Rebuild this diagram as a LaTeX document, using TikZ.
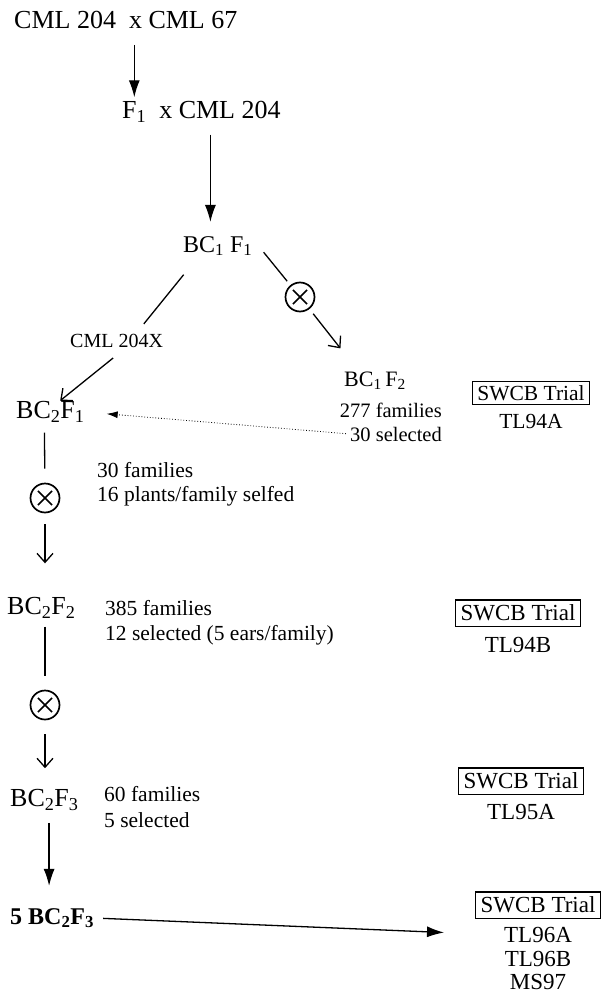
\documentclass[tikz,border=0pt]{standalone}
\usepackage{fontspec}
\setmainfont{Liberation Serif}
\usetikzlibrary{arrows.meta}
\newcommand{\sub}[1]{\textsubscript{#1}}

\begin{document}
\begin{tikzpicture}[x=1pt,y=-1pt]
 \tikzset{gen/.style = {inner sep=0pt, anchor=west, font=\fontsize{26}{28}\selectfont}}
 \tikzset{note/.style = {inner sep=0pt, anchor=west, font=\fontsize{21.5}{24}\selectfont}}
 \tikzset{trial/.style = {draw, line width=1.3pt, inner xsep=5pt, inner ysep=5pt, font=\fontsize{23}{25}\selectfont}}
 \tikzset{site/.style = {inner sep=0pt, font=\fontsize{23}{25}\selectfont}}
 \tikzset{selfx/.style = {circle, draw, line width=1.7pt, minimum size=29pt, inner sep=0pt,
   path picture={\draw[line width=1.7pt]
     ([shift={(45:10pt)}]path picture bounding box.center) -- ([shift={(225:10pt)}]path picture bounding box.center)
     ([shift={(135:10pt)}]path picture bounding box.center) -- ([shift={(-45:10pt)}]path picture bounding box.center);}}}
 \tikzset{link/.style = {line width=1.3pt}}
 \tikzset{edge/.style = {line width=1.3pt, -{Latex[length=17pt,width=11pt]}}}
 \tikzset{open edge/.style = {line width=1.3pt, -{Straight Barb[length=9pt,width=16pt]}}}
 \tikzset{pick/.style = {line width=0.8pt, dotted, -{Latex[length=11pt,width=7pt]}}}
 \useasboundingbox (0,0) rectangle (603,995);

 % crosses
 \node[gen] (cross1) at (14,20) {CML 204~ x CML 67};
 \node[gen] (cross2) at (122,112) {F\sub{1}~ x CML 204};
 \node[gen, font=\fontsize{24}{26}\selectfont] (bc1f1) at (183,246) {BC\sub{1} F\sub{1}};
 \node[note, font=\fontsize{20}{22}\selectfont] (recur) at (70,341) {CML 204X};
 \node[selfx] (self1) at (300,297) {};

 % BC1F2 branch
 \node[gen, font=\fontsize{22}{24}\selectfont] (bc1f2) at (344,381) {BC\sub{1}\,F\sub{2}};
 \node[note, anchor=east, font=\fontsize{20.5}{22}\selectfont] (fam1) at (442,410) {277 families};
 \node[note, anchor=east, font=\fontsize{20.5}{22}\selectfont] (sel1) at (442,434) {30 selected};
 \node[trial, font=\fontsize{21.5}{23}\selectfont, inner ysep=4pt] (trial1) at (531,393) {SWCB Trial};
 \node[site, font=\fontsize{21.5}{23}\selectfont] (site1) at (531,421) {TL94A};

 % BC2 line
 \node[gen] (bc2f1) at (16,412) {BC\sub{2}F\sub{1}};
 \node[selfx] (self2) at (45,498) {};
 \node[note] (fam2) at (97,470) {30 families};
 \node[note] (plants) at (97,496) {16 plants/family selfed};
 \node[gen] (bc2f2) at (7,608) {BC\sub{2}F\sub{2}};
 \node[note] (fam3) at (105,608) {385 families};
 \node[note] (sel3) at (105,635) {12 selected (5 ears/family)};
 \node[trial] (trial2) at (518,613) {SWCB Trial};
 \node[site] (site2) at (518,645) {TL94B};
 \node[selfx] (self3) at (45,705) {};
 \node[gen] (bc2f3) at (10,800) {BC\sub{2}F\sub{3}};
 \node[note] (fam4) at (104,794) {60 families};
 \node[note] (sel4) at (104,820) {5 selected};
 \node[trial] (trial3) at (521,781) {SWCB Trial};
 \node[site] (site3) at (521,812) {TL95A};
 \node[gen, font=\fontsize{24}{26}\selectfont\bfseries] (final) at (10,918) {5 BC\sub{2}F\sub{3}};
 \node[trial] (trial4) at (538,905) {SWCB Trial};
 \node[site] (site4) at (538,935) {TL96A};
 \node[site] (site5) at (538,959) {TL96B};
 \node[site] (site6) at (538,982) {MS97};

 % connectors
 \draw[edge, shorten <=16pt, shorten >=4pt] ([xshift=8.5pt]cross1.south) -- ([xshift=8.5pt]cross1.south |- cross2.north);
 \draw[edge, shorten <=12pt, shorten >=14pt] ([xshift=9pt]cross2.south) -- ([xshift=9pt]cross2.south |- bc1f1.north);
 \draw[link, shorten <=24pt, shorten >=13pt] ([xshift=-19pt]bc1f1.south) -- ([xshift=19pt]recur.north);
 \draw[open edge, shorten <=16pt, shorten >=1pt] ([xshift=9pt]recur.south) -- ([xshift=9pt]bc2f1.north);
 \draw[link, shorten <=8pt, shorten >=5pt] ([xshift=6pt]bc1f1.east) -- (self1);
 \draw[open edge, shorten <=6pt, shorten >=30pt] (self1) -- ([xshift=15pt]bc1f2.north west);
 \draw[pick, shorten <=4pt, shorten >=22pt] (sel1.west) -- (bc2f1.east);
 \draw[link, shorten <=10pt, shorten >=14pt] ([xshift=-6pt]bc2f1.south) -- (self2);
 \draw[open edge, shorten <=11pt, shorten >=34pt] (self2) -- (self2 |- bc2f2.north);
 \draw[link, shorten <=8pt, shorten >=14pt] (self2 |- bc2f2.south) -- (self3);
 \draw[open edge, shorten <=14pt, shorten >=21pt] (self3) -- (self3 |- bc2f3.north);
 \draw[edge, shorten <=12pt, shorten >=22pt] ([xshift=-3pt]final.north |- bc2f3.south) -- ([xshift=-3pt]final.north);
 \draw[edge, shorten <=9pt, shorten >=60pt] (final.east) -- (site4.west);
\end{tikzpicture}
\end{document}
